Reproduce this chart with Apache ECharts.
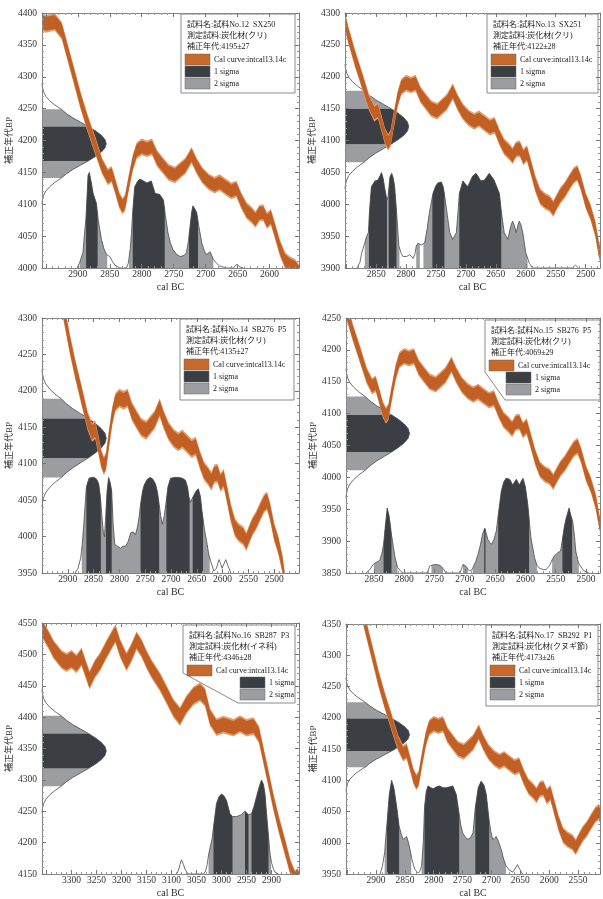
<!DOCTYPE html>
<html>
<head>
<meta charset="utf-8">
<script src="https://cdn.jsdelivr.net/npm/echarts@6/dist/echarts.min.js"></script>
<style>
html,body{margin:0;padding:0;background:#fff}
#chart{width:603px;height:899px}
</style>
</head>
<body>
<div id="chart"></div>
<script>
// IntCal13 calibration curve: [cal BC, 14C age BP, 1σ half-width]
const calCurve = [
  [3375,4556,12],[3365,4548,12],[3355,4536,12],[3345,4522,12],[3336,4508,12],[3320,4492,12],
  [3310,4487,12],[3300,4492,12],[3290,4485,12],[3280,4496,12],[3270,4473,12],[3264,4459,12],
  [3253,4477,12],[3243,4488,12],[3230,4508,12],[3216,4528,12],[3212,4533,12],[3203,4510,12],
  [3190,4488,12],[3180,4503,12],[3170,4522,12],[3160,4510,12],[3150,4492,12],[3140,4477,12],
  [3123,4456,12],[3110,4436,12],[3096,4414,12],[3083,4401,12],[3070,4420,12],[3056,4434,12],
  [3043,4440,12],[3033,4432,12],[3023,4400,11],[3010,4384,11],[2996,4388,11],[2976,4383,11],
  [2963,4389,11],[2950,4383,11],[2936,4386,11],[2925,4372,11],[2915,4335,11],[2905,4298,11],
  [2896,4264,11],[2885,4228,11],[2873,4193,11],[2862,4160,10],[2853,4143,10],[2847,4147,10],
  [2841,4127,10],[2835,4106,10],[2830,4097,10],[2826,4103,10],[2820,4135,10],[2814,4165,10],
  [2808,4184,10],[2800,4190,10],[2792,4187,10],[2784,4190,10],[2776,4172,10],[2768,4162,10],
  [2758,4150,10],[2748,4146,10],[2740,4153,10],[2732,4160,10],[2722,4177,10],[2714,4160,10],
  [2705,4145,10],[2695,4135,10],[2686,4130,10],[2678,4134,10],[2670,4128,10],[2660,4121,10],
  [2652,4124,10],[2644,4105,10],[2636,4090,10],[2628,4083,10],[2622,4076,10],[2616,4086,10],
  [2610,4087,10],[2604,4074,10],[2598,4080,10],[2592,4060,10],[2584,4032,10],[2576,4012,10],
  [2568,4005,10],[2560,4001,10],[2554,3993,10],[2548,4004,10],[2542,4014,10],[2535,4022,10],
  [2528,4033,10],[2520,4045,10],[2514,4049,10],[2508,4034,10],[2500,4006,10],[2492,3988,10],
  [2484,3962,10],[2478,3930,10],[2472,3908,10],[2462,3885,10],[2445,3860,10]
];

// shape of the measured-age distribution: [offset in σ, relative density]
const ageProfile = [
  [-3.5,0],[-3.25,0.008],[-3,0.025],[-2.75,0.06],[-2.5,0.12],[-2.25,0.2],[-2,0.3],[-1.75,0.38],
  [-1.5,0.48],[-1.25,0.6],[-1,0.72],[-0.75,0.83],[-0.5,0.92],[-0.25,0.98],[0,1],
  [0.25,0.98],[0.5,0.92],[0.75,0.83],[1,0.72],[1.25,0.6],[1.5,0.48],[1.75,0.38],[2,0.3],
  [2.25,0.2],[2.5,0.12],[2.75,0.06],[3,0.025],[3.25,0.008],[3.5,0]
];

const sampleNames = ['試料No.12  SX250','試料No.13  SX251','試料No.14  SB276  P5',
                     '試料No.15  SB276  P5','試料No.16  SB287  P3','試料No.17  SB292  P1'];
const sampleMaterials = ['炭化材(クリ)','炭化材(クリ)','炭化材(クリ)','炭化材(クリ)','炭化材(イネ科)','炭化材(クヌギ節)'];
const sampleAges = [4195, 4122, 4135, 4069, 4346, 4173];
const sampleErrors = [27, 28, 27, 29, 28, 26];
const legendLabels = ['Cal curve:intcal13.14c', '1 sigma', '2 sigma'];

// axis extents: BP (vertical) and cal BC (horizontal)
const yRanges = [[4000,4400],[3900,4300],[3950,4300],[3850,4250],[4150,4550],[3950,4350]];
const xRanges = [[2554,2956],[2476,2902],[2452,2950],[2477,2896],[2845,3359],[2512,2952]];
const xTickLabels = [
  [2900,2850,2800,2750,2700,2650,2600],
  [2850,2800,2750,2700,2650,2600,2550,2500],
  [2900,2850,2800,2750,2700,2650,2600,2550,2500],
  [2850,2800,2750,2700,2650,2600,2550,2500],
  [3300,3250,3200,3150,3100,3050,3000,2950,2900],
  [2900,2850,2800,2750,2700,2650,2600,2550]
];

// calibrated date distributions: [cal BC, relative probability]
const post12 = [[2901,0],[2897,0.06],[2892,0.16],[2887,0.55],[2884,0.97],[2882,1.0],[2879,0.9],[2876,0.78],
  [2871,0.68],[2868,0.5],[2863,0.3],[2859,0.2],[2855,0.14],[2850,0.12],[2846,0.07],[2842,0.03],[2834,0],
  [2824,0],[2821,0.05],[2818,0.2],[2816,0.37],[2814,0.6],[2811,0.85],[2807,0.9],[2803,0.93],[2797,0.91],
  [2792,0.89],[2785,0.91],[2779,0.78],[2772,0.77],[2766,0.71],[2763,0.55],[2759,0.37],[2755,0.26],
  [2751,0.19],[2745,0.14],[2740,0.12],[2734,0.13],[2730,0.16],[2727,0.28],[2725,0.4],[2722,0.58],
  [2720,0.65],[2717,0.62],[2714,0.58],[2711,0.45],[2706,0.26],[2702,0.18],[2699,0.14],[2693,0.17],
  [2688,0.09],[2683,0.05],[2678,0.02],[2667,0],[2657,0],[2652,0.035],[2646,0.01],[2641,0]];
const post13 = [[2882,0],[2877,0.06],[2874,0.16],[2869,0.26],[2866,0.33],[2863,0.37],[2861,0.6],[2858,0.85],
  [2852,0.91],[2847,0.92],[2843,0.97],[2841,1.0],[2838,0.93],[2836,0.85],[2832,0.71],[2830,0.75],
  [2827,0.95],[2824,0.99],[2821,0.93],[2819,0.85],[2816,0.6],[2812,0.23],[2808,0.15],[2805,0.12],
  [2799,0.12],[2794,0.14],[2788,0.1],[2785,0.15],[2783,0.23],[2780,0.26],[2775,0.24],[2769,0.26],
  [2765,0.4],[2761,0.58],[2755,0.78],[2751,0.85],[2747,0.89],[2741,0.9],[2738,0.85],[2736,0.78],
  [2731,0.55],[2727,0.37],[2722,0.3],[2716,0.37],[2713,0.6],[2711,0.78],[2705,0.91],[2697,0.85],
  [2689,0.96],[2683,0.99],[2675,0.91],[2669,0.92],[2661,0.99],[2653,0.92],[2644,0.78],[2641,0.6],
  [2636,0.37],[2630,0.3],[2625,0.44],[2622,0.49],[2619,0.44],[2616,0.37],[2613,0.45],[2611,0.49],
  [2608,0.45],[2605,0.37],[2600,0.16],[2594,0.05],[2589,0],[2522,0],[2517,0.03],[2512,0]];
const post14 = [[2886,0],[2880,0.05],[2875,0.16],[2872,0.3],[2869,0.51],[2866,0.75],[2864,0.9],[2859,0.99],
  [2854,1.0],[2849,1.0],[2844,0.98],[2840,0.93],[2837,0.8],[2834,0.6],[2831,0.42],[2829,0.38],[2827,0.55],
  [2824,0.85],[2821,1.0],[2818,0.95],[2815,0.86],[2812,0.5],[2809,0.3],[2804,0.28],[2798,0.26],
  [2793,0.28],[2788,0.28],[2783,0.33],[2778,0.42],[2773,0.43],[2769,0.4],[2765,0.48],[2762,0.58],
  [2759,0.72],[2755,0.86],[2752,0.92],[2746,0.98],[2740,1.0],[2735,0.98],[2730,0.93],[2726,0.84],
  [2723,0.72],[2720,0.6],[2717,0.51],[2713,0.6],[2710,0.72],[2706,0.9],[2701,0.99],[2693,1.0],
  [2685,1.0],[2678,0.99],[2672,0.97],[2668,0.9],[2665,0.79],[2662,0.74],[2659,0.78],[2656,0.81],
  [2651,0.86],[2647,0.88],[2643,0.8],[2640,0.65],[2635,0.45],[2630,0.3],[2627,0.2],[2623,0.12],
  [2617,0.02],[2612,0.05],[2607,0.14],[2604,0.1],[2601,0.05],[2597,0.1],[2594,0.14],[2590,0.08],[2584,0]];
const post15 = [[2863,0],[2856,0.04],[2851,0.09],[2847,0.11],[2843,0.12],[2840,0.14],[2837,0.2],[2834,0.3],
  [2831,0.5],[2828,0.68],[2825,0.6],[2823,0.51],[2821,0.4],[2818,0.28],[2815,0.16],[2811,0.06],[2806,0.02],
  [2802,0],[2762,0],[2758,0.07],[2752,0.085],[2747,0.09],[2741,0.08],[2736,0.05],[2731,0],[2708,0],
  [2705,0.05],[2703,0.09],[2700,0.08],[2698,0.07],[2695,0.04],[2692,0.02],[2689,0.03],[2687,0.05],
  [2682,0.12],[2678,0.2],[2674,0.3],[2671,0.4],[2667,0.47],[2664,0.4],[2662,0.35],[2659,0.32],
  [2656,0.3],[2652,0.35],[2648,0.44],[2645,0.6],[2640,0.85],[2636,0.95],[2632,0.99],[2626,0.98],
  [2621,0.92],[2615,0.98],[2610,0.92],[2606,0.97],[2604,0.99],[2600,0.9],[2596,0.71],[2591,0.37],
  [2585,0.16],[2581,0.08],[2577,0.05],[2570,0.035],[2566,0.035],[2560,0.08],[2556,0.14],[2552,0.18],
  [2547,0.21],[2542,0.23],[2539,0.35],[2536,0.48],[2533,0.57],[2528,0.68],[2525,0.6],[2522,0.54],
  [2519,0.38],[2517,0.23],[2513,0.12],[2511,0.09],[2507,0.05],[2503,0.02],[2495,0]];
const post16 = [[3090,0],[3086,0.04],[3083,0.1],[3080,0.15],[3076,0.1],[3073,0.05],[3067,0],[3036,0],
  [3032,0.03],[3029,0.09],[3026,0.2],[3022,0.3],[3019,0.37],[3016,0.5],[3010,0.75],[3005,0.82],
  [3000,0.85],[2995,0.83],[2990,0.78],[2983,0.64],[2978,0.61],[2970,0.61],[2960,0.63],[2955,0.66],
  [2953,0.67],[2950,0.65],[2946,0.63],[2940,0.64],[2935,0.72],[2930,0.82],[2925,0.92],[2920,1.0],
  [2916,0.95],[2913,0.85],[2910,0.65],[2906,0.4],[2903,0.22],[2900,0.12],[2896,0.05],[2893,0.02],[2886,0]];
const post17 = [[2893,0],[2889,0.08],[2885,0.23],[2883,0.4],[2881,0.54],[2877,0.85],[2873,1.0],[2869,0.92],
  [2864,0.71],[2860,0.51],[2856,0.42],[2853,0.37],[2850,0.38],[2847,0.4],[2844,0.34],[2841,0.26],
  [2838,0.16],[2833,0.05],[2827,0.01],[2824,0.03],[2821,0.09],[2818,0.35],[2816,0.71],[2813,0.88],
  [2810,0.94],[2805,0.92],[2801,0.91],[2795,0.93],[2790,0.94],[2784,0.92],[2778,0.92],[2772,0.93],
  [2767,0.94],[2761,0.85],[2756,0.64],[2753,0.52],[2750,0.44],[2745,0.39],[2741,0.37],[2736,0.39],
  [2732,0.44],[2728,0.71],[2723,0.92],[2718,0.99],[2713,0.95],[2709,0.85],[2704,0.57],[2701,0.45],
  [2698,0.37],[2695,0.38],[2692,0.4],[2688,0.35],[2683,0.26],[2679,0.16],[2675,0.09],[2669,0.04],
  [2663,0.02],[2659,0.06],[2655,0.1],[2651,0.05],[2646,0]];
const posteriors = [post12, post13, post14, post15, post16, post17];

// 1σ and 2σ calibrated ranges [from, to] in cal BC
const sigma1 = [
  [[2887,2869],[2814,2764],[2726,2712]],
  [[2862,2832],[2829,2816],[2756,2736],[2711,2641]],
  [[2864,2836],[2826,2815],[2759,2723],[2709,2664],[2658,2638]],
  [[2834,2821],[2668,2666],[2645,2594],[2539,2523]],
  [[3016,2978],[2953,2946],[2940,2906]],
  [[2881,2860],[2816,2756],[2728,2704]]
];
const sigma2 = [
  [[2897,2854],[2820,2688]],
  [[2869,2811],[2783,2777],[2771,2597]],
  [[2873,2625]],
  [[2850,2811],[2755,2736],[2703,2695],[2687,2581],[2556,2512]],
  [[3026,2901]],
  [[2885,2839],[2821,2675]]
];

// ---- layout and styling ----
const gridBoxes = [
  {left:42, top:13, width:257, height:255},
  {left:345, top:13, width:256, height:255},
  {left:42, top:318, width:257, height:255},
  {left:346, top:318, width:255, height:255},
  {left:42, top:623, width:257, height:255},
  {left:346, top:624, width:255, height:254}
];
const legendBoxes = [
  {x:181, y:14, w:114, h:79, sig:4},
  {x:487, y:14, w:111, h:79, sig:4},
  {x:180, y:319, w:114, h:81, sig:4},
  {x:485, y:320, w:115, h:80, sig:21, cut:[20,52]},
  {x:183, y:625, w:112, h:78, sig:57, cut:[55,48]},
  {x:486, y:625, w:112, h:81, sig:4}
];
const COLORS = {curve:'#c25f24', curveEdge:'#e0a070', dark:'#3b3f43', light:'#9b9da0', outline:'#4a4a4a', swatch:'#c8692c'};
const SERIF = '"Liberation Serif", "Noto Sans CJK JP", serif';
const DENSITY_MAX = 4;       // peak of measured-age curve takes 1/4 of the width
const PROB_MAX = 8 / 3;      // highest calibrated peak takes 3/8 of the height

function tickStyle() {
  return {
    axisLine: {show: true, lineStyle: {color: '#858585', width: 1}},
    axisTick: {show: true, inside: true, length: 4, lineStyle: {color: '#777'}},
    minorTick: {show: true, inside: true, splitNumber: 5, length: 2, lineStyle: {color: '#999'}},
    splitLine: {show: false}
  };
}

function rangeShape(asc, r, api) {
  const lo = Math.min(r[0], r[1]), hi = Math.max(r[0], r[1]);
  const valAt = yr => {
    for (let k = 1; k < asc.length; k++) {
      if (asc[k][0] >= yr) {
        const [x0, y0] = asc[k - 1], [x1, y1] = asc[k];
        return x1 === x0 ? y1 : y0 + (y1 - y0) * (yr - x0) / (x1 - x0);
      }
    }
    return 0;
  };
  const pts = [api.coord([lo, 0]), api.coord([lo, valAt(lo)])];
  asc.forEach(([x, y]) => { if (x > lo && x < hi) pts.push(api.coord([x, y])); });
  pts.push(api.coord([hi, valAt(hi)]), api.coord([hi, 0]));
  return pts;
}

const xAxes = [], yAxes = [], grids = [], series = [], graphics = [];

for (let i = 0; i < 6; i++) {
  grids.push(Object.assign({containLabel: false}, gridBoxes[i]));
  const [xmin, xmax] = xRanges[i];
  const [ymin, ymax] = yRanges[i];
  const labels = xTickLabels[i];
  const split = Math.round((xmax - xmin) / 50);

  xAxes.push(Object.assign({
    type: 'value', gridIndex: i, min: xmin, max: xmax, inverse: true, position: 'bottom',
    splitNumber: split, z: 10,
    axisLabel: {margin: 2, fontSize: 9.5, color: '#333', fontFamily: SERIF,
      formatter: v => labels.indexOf(Math.round(v)) >= 0 && Math.abs(v - Math.round(v)) < 1e-6 ? String(Math.round(v)) : ''},
    name: 'cal BC', nameLocation: 'middle', nameGap: 14,
    nameTextStyle: {fontSize: 10, color: '#333', fontFamily: SERIF}
  }, tickStyle()));
  xAxes.push(Object.assign({
    type: 'value', gridIndex: i, min: xmin, max: xmax, inverse: true, position: 'top',
    splitNumber: split, z: 10, axisLabel: {show: false}
  }, tickStyle()));
  xAxes.push({type: 'value', gridIndex: i, show: false, min: 0, max: DENSITY_MAX});

  yAxes.push(Object.assign({
    type: 'value', gridIndex: i, min: ymin, max: ymax, interval: 50, position: 'left', z: 10,
    axisLabel: {margin: 5, fontSize: 9.5, color: '#333', fontFamily: SERIF, formatter: v => String(v)},
    name: '補正年代BP', nameLocation: 'middle', nameGap: 23, nameRotate: 90,
    nameTextStyle: {fontSize: 9, color: '#333', fontFamily: SERIF}
  }, tickStyle()));
  yAxes.push(Object.assign({
    type: 'value', gridIndex: i, min: ymin, max: ymax, interval: 50, position: 'right', z: 10,
    axisLabel: {show: false}
  }, tickStyle()));
  yAxes.push({type: 'value', gridIndex: i, show: false, min: 0, max: PROB_MAX});

  // calibrated probability distribution along the cal BC axis
  series.push({
    type: 'custom', xAxisIndex: 3 * i, yAxisIndex: 3 * i + 2, z: 2, silent: true, clip: true,
    data: [[xmin, 0]],
    renderItem: (params, api) => {
      const asc = posteriors[i].slice().sort((a, b) => a[0] - b[0]);
      const kids = [];
      sigma2[i].forEach(r => kids.push({type: 'polygon', shape: {points: rangeShape(asc, r, api)}, style: {fill: COLORS.light}}));
      sigma1[i].forEach(r => kids.push({type: 'polygon', shape: {points: rangeShape(asc, r, api)}, style: {fill: COLORS.dark}}));
      kids.push({type: 'polyline', shape: {points: asc.map(p => api.coord(p))},
        style: {stroke: COLORS.outline, lineWidth: 0.8, fill: 'none'}});
      return {type: 'group', children: kids};
    }
  });

  // measured radiocarbon age distribution along the BP axis
  series.push({
    type: 'custom', xAxisIndex: 3 * i + 2, yAxisIndex: 3 * i, z: 3, silent: true,
    data: [[0, sampleAges[i]]],
    renderItem: (params, api) => {
      const m = sampleAges[i], s = sampleErrors[i];
      const pt = (k, d) => api.coord([d, m + k * s]);
      const band = (lo, hi) => {
        const pts = [pt(lo, 0)];
        ageProfile.forEach(([k, d]) => { if (k >= lo && k <= hi) pts.push(pt(k, d)); });
        pts.push(pt(hi, 0));
        return pts;
      };
      return {type: 'group', children: [
        {type: 'polygon', shape: {points: band(-2, -1)}, style: {fill: COLORS.light}},
        {type: 'polygon', shape: {points: band(1, 2)}, style: {fill: COLORS.light}},
        {type: 'polygon', shape: {points: band(-1, 1)}, style: {fill: COLORS.dark}},
        {type: 'polyline', shape: {points: ageProfile.map(([k, d]) => pt(k, d))},
          style: {stroke: COLORS.outline, lineWidth: 0.8, fill: 'none'}}
      ]};
    }
  });

  // calibration curve band
  series.push({
    type: 'custom', xAxisIndex: 3 * i, yAxisIndex: 3 * i, z: 4, silent: true, clip: true,
    data: [[xmin, ymin]],
    renderItem: (params, api) => {
      const outer = [], inner = [];
      calCurve.forEach(([yr, bp, e]) => {
        outer.push(api.coord([yr, bp + e + 3]));
        inner.push(api.coord([yr, bp + e]));
      });
      for (let k = calCurve.length - 1; k >= 0; k--) {
        const [yr, bp, e] = calCurve[k];
        outer.push(api.coord([yr, bp - e - 3]));
        inner.push(api.coord([yr, bp - e]));
      }
      return {type: 'group', children: [
        {type: 'polygon', shape: {points: outer}, style: {fill: COLORS.curveEdge}},
        {type: 'polygon', shape: {points: inner}, style: {fill: COLORS.curve}}
      ]};
    }
  });

  // legend box
  const b = legendBoxes[i];
  const font = '8px ' + SERIF;
  const frame = b.cut
    ? {type: 'polygon', shape: {points: [[0, 0], [b.w, 0], [b.w, b.h], [b.cut[0], b.h], [0, b.cut[1]]]}}
    : {type: 'rect', shape: {x: 0, y: 0, width: b.w, height: b.h}};
  frame.style = {fill: '#fff', stroke: '#8a8a8a', lineWidth: 1};
  const kids = [frame];
  const header = ['試料名:' + sampleNames[i], '測定試料:' + sampleMaterials[i],
                  '補正年代:' + sampleAges[i] + '±' + sampleErrors[i]];
  header.forEach((t, k) => kids.push({type: 'text', x: 6, y: 11 + k * 11,
    style: {text: t, font: font, fill: '#222', verticalAlign: 'middle', textVerticalAlign: 'middle'}}));
  const rows = [[4, COLORS.swatch, legendLabels[0]], [b.sig, COLORS.dark, legendLabels[1]], [b.sig, COLORS.light, legendLabels[2]]];
  rows.forEach(([sx, c, label], k) => {
    const y = 40 + k * 12;
    kids.push({type: 'rect', shape: {x: sx, y: y, width: 25, height: 11}, style: {fill: c, stroke: '#666', lineWidth: 0.5}});
    kids.push({type: 'text', x: sx + 29, y: y + 5.5,
      style: {text: label, font: font, fill: '#222', verticalAlign: 'middle', textVerticalAlign: 'middle'}});
  });
  graphics.push({type: 'group', x: b.x, y: b.y, z: 100, children: kids});
}

const chart = echarts.init(document.getElementById('chart'), null, {renderer: 'canvas'});
chart.setOption({
  animation: false,
  backgroundColor: '#fff',
  textStyle: {fontFamily: SERIF},
  grid: grids,
  xAxis: xAxes,
  yAxis: yAxes,
  series: series,
  graphic: graphics
});
</script>
</body>
</html>
